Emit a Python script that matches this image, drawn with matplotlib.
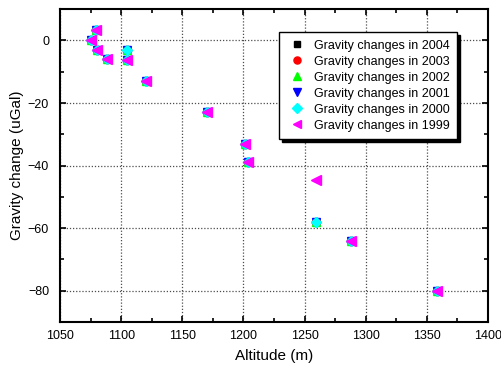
import matplotlib.pyplot as plt
import numpy as np
from matplotlib.ticker import MultipleLocator

plt.rcParams['font.family'] = ['Liberation Sans', 'DejaVu Sans']

# station altitudes (m) and gravity changes (uGal)
altitude = [1075, 1079, 1080, 1088, 1105, 1105, 1120, 1170, 1201, 1204, 1259, 1288, 1358]
g2004 = [0, 3.4, -3, -5.8, -3, -6.4, -13, -23, -33, -39, -58, -64, -80]
g2003 = [0, 3.4, -3, -5.8, -3, -6.4, -13, -23, -33, -39, -58, -64, -80]
g2002 = [0, 3.4, -3, -5.8, -3, -6.4, -13, -23, -33, -39, -58, -64, -80]
g2001 = [0, 3.4, -3, -5.8, -3, -6.4, -13, -23, -33, -39, -58, -64, -80]
g2000 = [0, 3.4, -3, -5.8, -3, -6.4, -13, -23, -33, -39, -58, -64, -80]
alt1999 = [1075, 1079, 1080, 1088, 1105, 1120, 1170, 1201, 1204, 1259, 1288, 1358]
g1999 = [0, 3.4, -3, -5.8, -6.4, -13, -23, -33, -39, -44.5, -64, -80]

fig = plt.figure(figsize=(5.01, 3.66), dpi=100)
ax = fig.add_axes([0.12, 0.12, 0.854, 0.855])

ax.plot(altitude, g2004, 's', color='black', ms=5, label='Gravity changes in 2004')
ax.plot(altitude, g2003, 'o', color='red', ms=6, label='Gravity changes in 2003')
ax.plot(altitude, g2002, '^', color='#00ff00', ms=6, label='Gravity changes in 2002')
ax.plot(altitude, g2001, 'v', color='blue', ms=6, label='Gravity changes in 2001')
ax.plot(altitude, g2000, 'D', color='cyan', ms=5.5, label='Gravity changes in 2000')
ax.plot(alt1999, g1999, '<', color='magenta', ms=6.5, label='Gravity changes in 1999')

ax.set_xlim(1050, 1400)
ax.set_ylim(-90, 10)
ax.xaxis.set_major_locator(MultipleLocator(50))
ax.xaxis.set_minor_locator(MultipleLocator(25))
ax.yaxis.set_major_locator(MultipleLocator(20))
ax.yaxis.set_minor_locator(MultipleLocator(10))
ax.tick_params(which='both', direction='in', top=True, right=True, labelsize=9)
ax.tick_params(axis='x', pad=6)
ax.tick_params(axis='y', pad=8)
ax.tick_params(which='major', length=4, width=1.2)
ax.tick_params(which='minor', length=3, width=1.2)
for s in ax.spines.values():
    s.set_linewidth(1.5)
ax.grid(True, which='major', linestyle=(0, (1, 1.5)), color='0.3', linewidth=0.9)

ax.set_xlabel('Altitude (m)', fontsize=11, labelpad=5)
ax.set_ylabel('Gravity change (uGal)', fontsize=11, labelpad=3)

leg = ax.legend(loc='upper left', bbox_to_anchor=(0.512, 0.926), fontsize=9,
                frameon=True, fancybox=False, edgecolor='black', framealpha=1,
                shadow={'color': 'black', 'alpha': 1, 'shade': 1},
                markerscale=0.85, handletextpad=0.6, labelspacing=0.32,
                borderpad=0.6, handlelength=1.6, borderaxespad=0)
leg.get_frame().set_linewidth(1)

fig.savefig('out.png', dpi=100)
